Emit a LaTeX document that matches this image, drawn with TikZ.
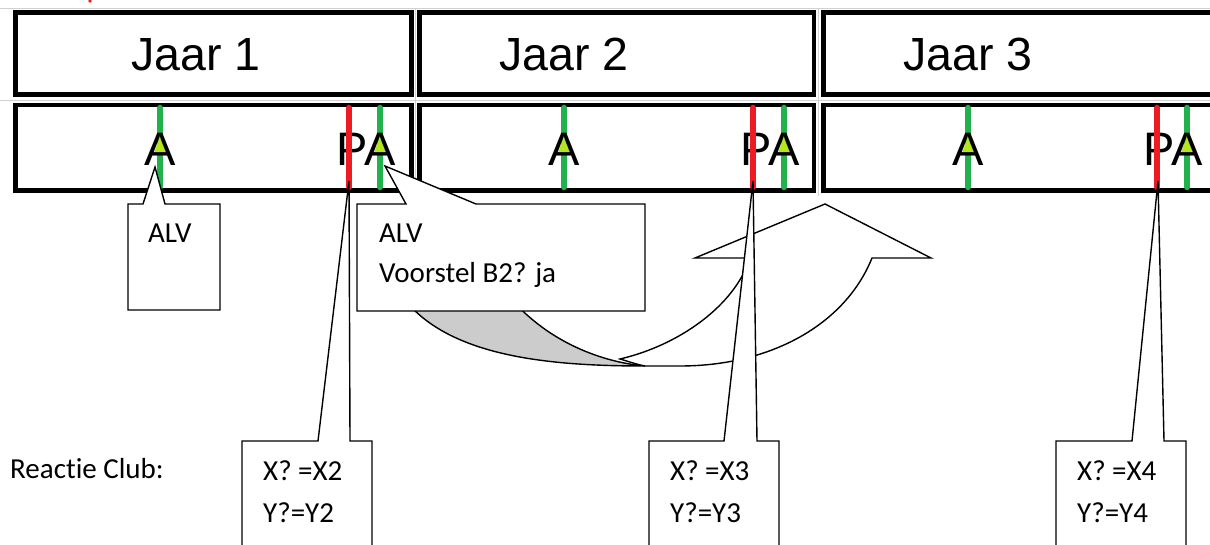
\documentclass[tikz,border=0pt]{standalone}
\usepackage{fontspec}
\newfontfamily\arialf{Liberation Sans}
\newfontfamily\calf[Ligatures=NoCommon]{Carlito}
\definecolor{pgreen}{HTML}{22B14C}
\definecolor{pred}{HTML}{ED1C24}
\definecolor{plime}{HTML}{B5E61D}
\definecolor{agray}{HTML}{CCCCCC}
\begin{document}
\begin{tikzpicture}[x=1pt,y=-1pt,
  yearbox/.style={draw=black,line width=4.5pt},
  gridline/.style={draw=black!18,line width=0.8pt},
  gline/.style={draw=pgreen,line width=6.5pt,line cap=round},
  rline/.style={draw=pred,line width=6.5pt,line cap=round},
  limetri/.style={fill=plime},
  callout/.style={draw=black,fill=white,line width=1.4pt,line join=miter},
  arrowpart/.style={draw=black,line width=1.4pt,line join=miter},
  yeartext/.style={font=\arialf\fontsize{46.5}{46.5}\selectfont,inner sep=0pt,anchor=base},
  lettertext/.style={font=\arialf\fontsize{47}{47}\selectfont,inner sep=0pt,anchor=base},
  caltext/.style={font=\calf\fontsize{29}{29}\selectfont,inner sep=0pt,anchor=base west}
]
\useasboundingbox (0,0) rectangle (1210,545);
\clip (0,0) rectangle (1210,545);
\fill[white] (0,0) rectangle (1210,545);

% faint table grid
\draw[gridline] (0,8) -- (1210,8);
\draw[gridline] (0,100) -- (1210,100);
\draw[gridline] (415.5,8) -- (415.5,196);
\draw[gridline] (818.5,8) -- (818.5,196);

% red remnant at top
\fill[pred] (90,1) circle (1.8);

% year boxes
\draw[yearbox] (15.5,12.5) rectangle (411.5,94.5);
\draw[yearbox] (15.5,105) rectangle (411.5,190.5);
\draw[yearbox] (419.5,12.5) rectangle (814,94.5);
\draw[yearbox] (419.5,105) rectangle (814,190.5);
\draw[yearbox] (823.5,12.5) rectangle (1230,94.5);
\draw[yearbox] (823.5,105) rectangle (1230,190.5);

\node[yeartext] (jaar1) at (196,71) {Jaar 1};
\node[yeartext] (jaar2) at (564,71) {Jaar 2};
\node[yeartext] (jaar3) at (968,71) {Jaar 3};

% markers
\foreach \g/\r/\h [count=\i] in {160/349/380, 564/753/784, 968/1157/1187}{
  \draw[gline] (\g,108) -- (\g,187);
  \draw[gline] (\h,108) -- (\h,187);
  \fill[limetri] (\g,136) -- (\g-6,153) -- (\g+6,153) -- cycle;
  \fill[limetri] (\h,136) -- (\h-6,153) -- (\h+6,153) -- cycle;
  \node[lettertext] (a\i) at (\g,166) {A};
  \node[lettertext,anchor=base east] (pa\i) at (\h+15.7,166) {PA};
  \draw[rline] (\r,108) -- (\r,187);
}

% curved up arrow: back (gray) band
\path[arrowpart,fill=agray] (392,280) .. controls (430,355) and (540,366) .. (645,366)
  .. controls (600,362) and (540,340) .. (500,285) -- cycle;
% front (white) band with head
\path[arrowpart,fill=white] (620,359) .. controls (680,345) and (735,305) .. (750,258)
  -- (695,258) -- (825,204) -- (931,258) -- (872,258)
  .. controls (845,325) and (770,366) .. (680,366) -- (645,366)
  .. controls (635,364) and (627,361) .. (620,359) -- cycle;

% callouts
\draw[callout] (128,204) -- (143,204) -- (155,167) -- (165,204) -- (220,204) -- (220,310) -- (128,310) -- cycle;
\node[caltext] (alv1) at (148,243) {ALV};

\draw[callout] (357,204) -- (406,204) -- (385,166) -- (476,204) -- (645,204) -- (645,311) -- (357,311) -- cycle;
\node[caltext] (alv2) at (379,243) {ALV};
\node[caltext] (voorstel) at (379,283) {Voorstel B2? ja};

\draw[callout] (242,441) -- (318,441) -- (349,181) -- (350,441) -- (372,441) -- (372,560) -- (242,560) -- cycle;
\node[caltext] (x2) at (263,480) {X? =X2};
\node[caltext] (y2) at (263,522) {Y?=Y2};

\draw[callout] (649,441) -- (724,441) -- (753,181) -- (757,441) -- (779,441) -- (779,560) -- (649,560) -- cycle;
\node[caltext] (x3) at (670,480) {X? =X3};
\node[caltext] (y3) at (670,522) {Y?=Y3};

\draw[callout] (1056,441) -- (1132,441) -- (1158,181) -- (1164,441) -- (1186,441) -- (1186,560) -- (1056,560) -- cycle;
\node[caltext] (x4) at (1077,480) {X? =X4};
\node[caltext] (y4) at (1077,522) {Y?=Y4};

\node[caltext] (reactie) at (10,478) {Reactie Club:};
\end{tikzpicture}
\end{document}
